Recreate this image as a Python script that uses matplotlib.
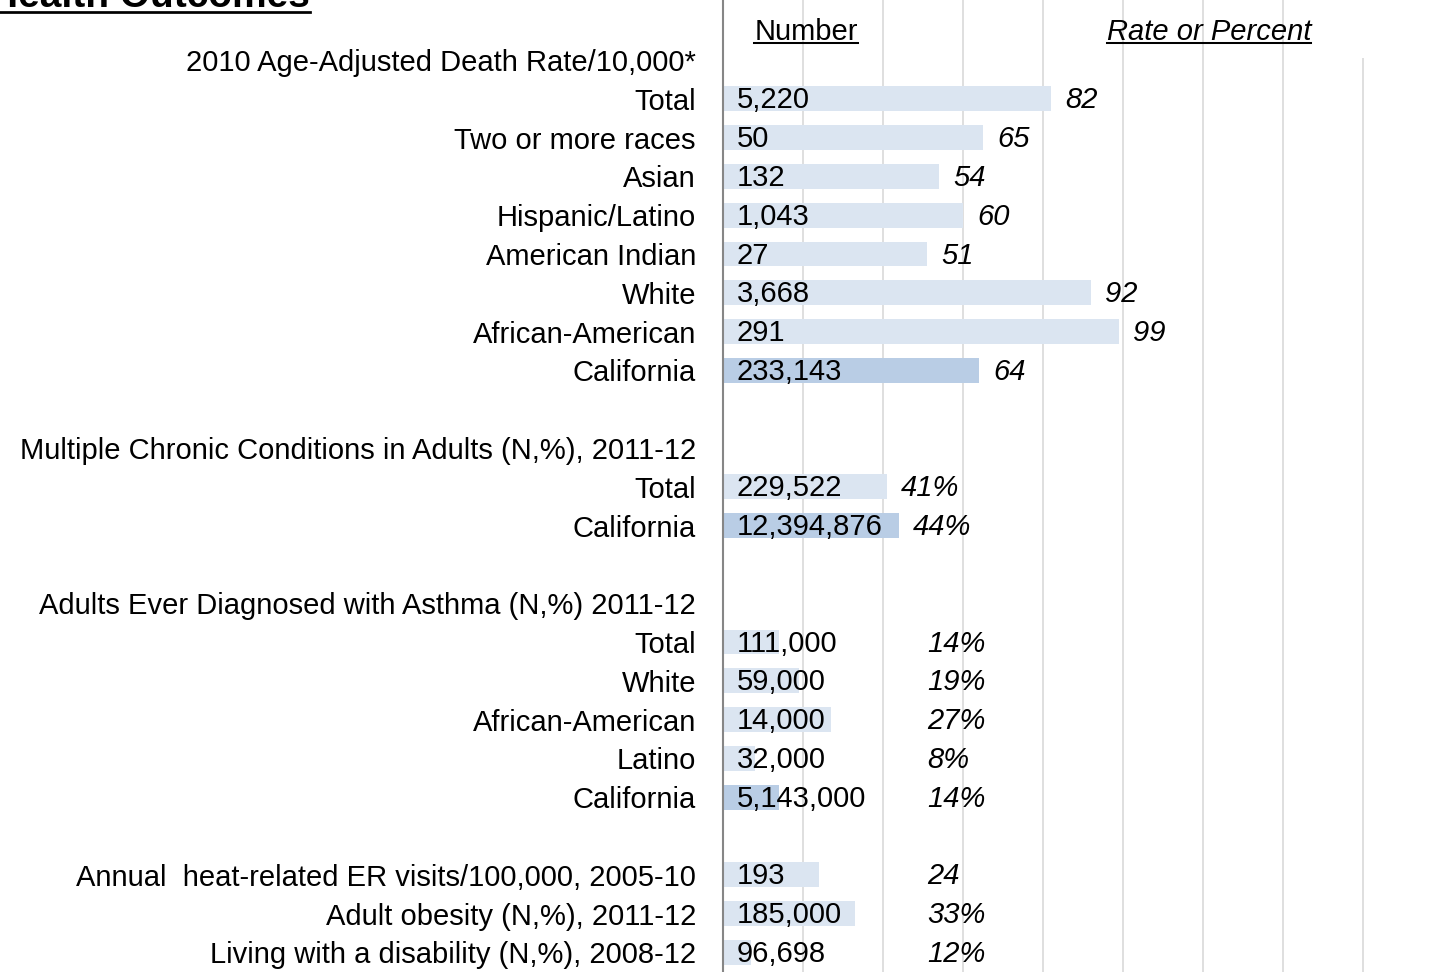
import numpy as np
import matplotlib.pyplot as plt
from matplotlib.lines import Line2D

plt.rcParams['font.family'] = ['Liberation Sans', 'DejaVu Sans']

# ============================================================
# Data (one entry per row, top to bottom; "" = header / spacer)
# ============================================================
row_labels = [
    "2010 Age-Adjusted Death Rate/10,000*",
    "Total", "Two or more races", "Asian", "Hispanic/Latino",
    "American Indian", "White", "African-American", "California",
    "",
    "Multiple Chronic Conditions in Adults (N,%), 2011-12",
    "Total", "California",
    "",
    "Adults Ever Diagnosed with Asthma (N,%) 2011-12",
    "Total", "White", "African-American", "Latino", "California",
    "",
    "Annual  heat-related ER visits/100,000, 2005-10",
    "Adult obesity (N,%), 2011-12",
    "Living with a disability (N,%), 2008-12",
]
numbers = [
    "", "5,220", "50", "132", "1,043", "27", "3,668", "291", "233,143",
    "", "", "229,522", "12,394,876",
    "", "", "111,000", "59,000", "14,000", "32,000", "5,143,000",
    "", "193", "185,000", "96,698",
]
rates = [
    "", "82", "65", "54", "60", "51", "92", "99", "64",
    "", "", "41%", "44%",
    "", "", "14%", "19%", "27%", "8%", "14%",
    "", "24", "33%", "12%",
]
bar_values = [
    0, 82, 65, 54, 60, 51, 92, 99, 64,
    0, 0, 41, 44,
    0, 0, 14, 19, 27, 8, 14,
    0, 24, 33, 7,
]
grid_x = [20, 40, 60, 80, 100, 120, 140, 160]

# ============================================================
# Layout
# ============================================================
W, H = 1438, 972
x0_px = 723          # pixel position of the value axis
px_per_unit = 4.0
row0_px, row_px = 60, 38.8
fs = 21

light = '#dbe5f1'
dark = '#b9cde5'

fig = plt.figure(figsize=(W / 100, H / 100), dpi=100)
ax = fig.add_axes([x0_px / W, 0, 1 - x0_px / W, 1])
ax.set_xlim(0, (W - x0_px) / px_per_unit)
y_top = -row0_px / row_px
y_bot = (H - row0_px) / row_px
ax.set_ylim(y_bot, y_top)

rows = np.arange(len(row_labels))
colors = [dark if lab == "California" else light for lab in row_labels]
ax.barh(rows, bar_values, height=0.64, color=colors, zorder=2)

# gridlines (last one starts a little lower)
ax.vlines(grid_x[:-1], y_bot, y_top, color='#d9d9d9', lw=1.2, zorder=0)
ax.vlines(grid_x[-1], y_bot, -0.05, color='#d9d9d9', lw=1.2, zorder=0)

for r, num, rate, val in zip(rows, numbers, rates, bar_values):
    if num:
        ax.text(3.5, r + 0.04, num, ha='left', va='center', fontsize=fs, zorder=3)
    if rate:
        # long bars: label right after the bar; short bars: label in a column
        rx = val + 3.5 if val > 35 else 51
        ax.text(rx, r + 0.04, rate, ha='left', va='center',
                fontsize=fs, style='italic', zorder=3)

ax.set_yticks(rows, row_labels, fontsize=fs)
ax.tick_params(axis='y', length=0, pad=27 * 0.72)
ax.set_xticks([])
for side in ['top', 'right', 'bottom']:
    ax.spines[side].set_visible(False)
ax.spines['left'].set_color('#868686')
ax.spines['left'].set_linewidth(1.5)


# ============================================================
# Headers (underlined text)
# ============================================================
def underlined(x_px, base_px, s, size, **kw):
    t = fig.text(x_px / W, 1 - base_px / H, s, fontsize=size, va='baseline', **kw)
    fig.canvas.draw()
    bb = t.get_window_extent()
    em = size * 100 / 72
    y = (H - base_px - 0.12 * em) / H
    lw = max(1.2, 0.07 * em * 0.72)
    fig.add_artist(Line2D([max(bb.x0, 0) / W, bb.x1 / W], [y, y],
                          color='black', lw=lw))
    return t

underlined(-10, 7, "Health Outcomes", 28, fontweight='bold')
underlined(806, 40, "Number", fs, ha='center')
underlined(1209, 40, "Rate or Percent", fs, ha='center', style='italic')

fig.savefig("out.png", dpi=100)
